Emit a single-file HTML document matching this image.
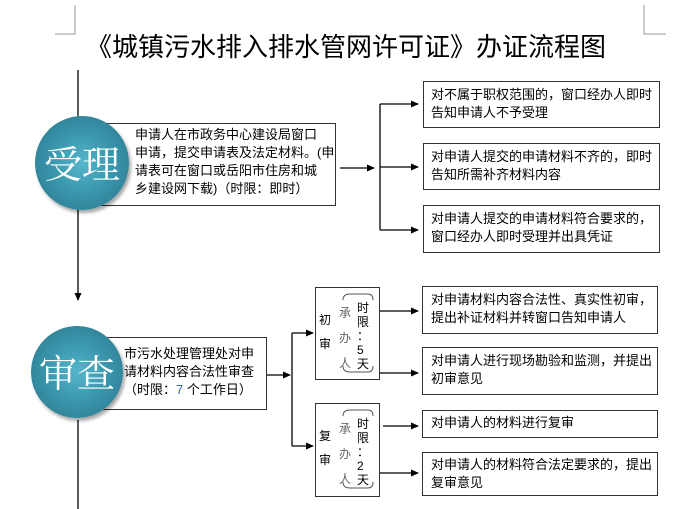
<!DOCTYPE html>
<html><head><meta charset="utf-8"><style>
body{margin:0;width:700px;height:509px;background:#fff;overflow:hidden;position:relative;font-family:"Liberation Sans","Noto Sans CJK SC",sans-serif}
.t{position:absolute;font-size:13px;line-height:18px;color:#000;white-space:nowrap}
.box{position:absolute;border:1px solid #333;background:#fff;box-sizing:border-box}
.c{position:absolute;border-radius:50%;background:radial-gradient(circle at 50% 50%,#55b6cc 0%,#3a97ad 45%,#2a7389 100%);box-shadow:2px 3px 3px rgba(0,0,0,.35);color:#fff;font-family:"Noto Serif CJK SC",serif;font-size:38px;text-align:center}
.s{position:absolute;font-size:12px;line-height:12px}
</style></head><body>
<svg width="700" height="509" style="position:absolute;left:0;top:0">
<defs><marker id="a" markerWidth="8" markerHeight="8" refX="7" refY="4" orient="auto" markerUnits="userSpaceOnUse"><path d="M0,0.5 L8,4 L0,7.5z" fill="#000"/></marker></defs>
<g stroke="#999" stroke-width="1" fill="none">
<path d="M75,5 V34 H55"/><path d="M644,5 V34 H666"/>
</g>
<g stroke="#000" stroke-width="1.3" fill="none">
<path d="M78,70 V300" marker-end="url(#a)"/>
<path d="M78,420 V509"/>
<path d="M340,168 H374" marker-end="url(#a)"/>
<path d="M380,104 V230"/>
<path d="M380,104 H418" marker-end="url(#a)"/>
<path d="M380,167 H418" marker-end="url(#a)"/>
<path d="M380,230 H418" marker-end="url(#a)"/>
<path d="M267,375 H290" marker-end="url(#a)"/>
<path d="M292,333 V446"/>
<path d="M292,333 H313" marker-end="url(#a)"/>
<path d="M292,446 H313" marker-end="url(#a)"/>
<path d="M380,311 H418" marker-end="url(#a)"/>
<path d="M380,373 H418" marker-end="url(#a)"/>
<path d="M383,426 H418" marker-end="url(#a)"/>
<path d="M380,473 H418" marker-end="url(#a)"/>
</g>
</svg>
<div class="t" style="left:86px;top:31px;font-size:26px;line-height:32px;letter-spacing:0px">《城镇污水排入排水管网许可证》办证流程图</div>

<div class="box" style="left:100px;top:123px;width:236px;height:83px"></div>
<div class="t" style="left:135px;top:126px">申请人在市政务中心建设局窗口<br>申请，提交申请表及法定材料。(申<br>请表可在窗口或岳阳市住房和城<br>乡建设网下载)（时限：即时）</div>
<div class="c" style="left:35px;top:116px;width:94px;height:94px;line-height:92px">受理</div>

<div class="box" style="left:423px;top:81px;width:237px;height:47px"></div>
<div class="t" style="left:431px;top:86px">对不属于职权范围的，窗口经办人即时<br>告知申请人不予受理</div>
<div class="box" style="left:423px;top:143px;width:237px;height:47px"></div>
<div class="t" style="left:431px;top:148px">对申请人提交的申请材料不齐的，即时<br>告知所需补齐材料内容</div>
<div class="box" style="left:423px;top:205px;width:237px;height:48px"></div>
<div class="t" style="left:431px;top:210px">对申请人提交的申请材料符合要求的，<br>窗口经办人即时受理并出具凭证</div>

<div class="box" style="left:100px;top:337px;width:167px;height:73px"></div>
<div class="t" style="left:124px;top:345px">市污水处理管理处对申<br>请材料内容合法性审查<br>（时限：<span style="color:#36c">7</span> 个工作日）</div>
<div class="c" style="left:31px;top:326px;width:92px;height:92px;line-height:90px">审查</div>

<div class="box" style="left:315px;top:287px;width:65px;height:93px"></div>
<div class="box" style="left:315px;top:403px;width:65px;height:94px"></div>
<svg width="700" height="509" style="position:absolute;left:0;top:0"><g stroke="#555" fill="none" stroke-width="1">
<path d="M343,300 Q343,294 350,294 H368 Q373,294 373,300"/><path d="M343,366 Q343,372 350,372 H368 Q373,372 373,366"/>
<path d="M343,416 Q343,410 350,410 H368 Q373,410 373,416"/><path d="M343,482 Q343,488 350,488 H368 Q373,488 373,482"/>
</g></svg>
<div class="s" style="left:319px;top:314px">初<br><br>审</div>
<div class="s" style="left:339px;top:301px;color:#666;line-height:25px">承<br>办<br>人</div>
<div class="s" style="left:357px;top:301px;line-height:14px">时<br>限<br>：<br>5<br>天</div>
<div class="s" style="left:319px;top:430px">复<br><br>审</div>
<div class="s" style="left:339px;top:417px;color:#666;line-height:25px">承<br>办<br>人</div>
<div class="s" style="left:357px;top:417px;line-height:14px">时<br>限<br>：<br>2<br>天</div>

<div class="box" style="left:422px;top:286px;width:236px;height:48px"></div>
<div class="t" style="left:431px;top:291px">对申请材料内容合法性、真实性初审，<br>提出补证材料并转窗口告知申请人</div>
<div class="box" style="left:422px;top:347px;width:236px;height:48px"></div>
<div class="t" style="left:431px;top:352px">对申请人进行现场勘验和监测，并提出<br>初审意见</div>
<div class="box" style="left:422px;top:410px;width:236px;height:28px"></div>
<div class="t" style="left:431px;top:414px">对申请人的材料进行复审</div>
<div class="box" style="left:422px;top:452px;width:236px;height:44px"></div>
<div class="t" style="left:431px;top:456px">对申请人的材料符合法定要求的，提出<br>复审意见</div>
</body></html>
